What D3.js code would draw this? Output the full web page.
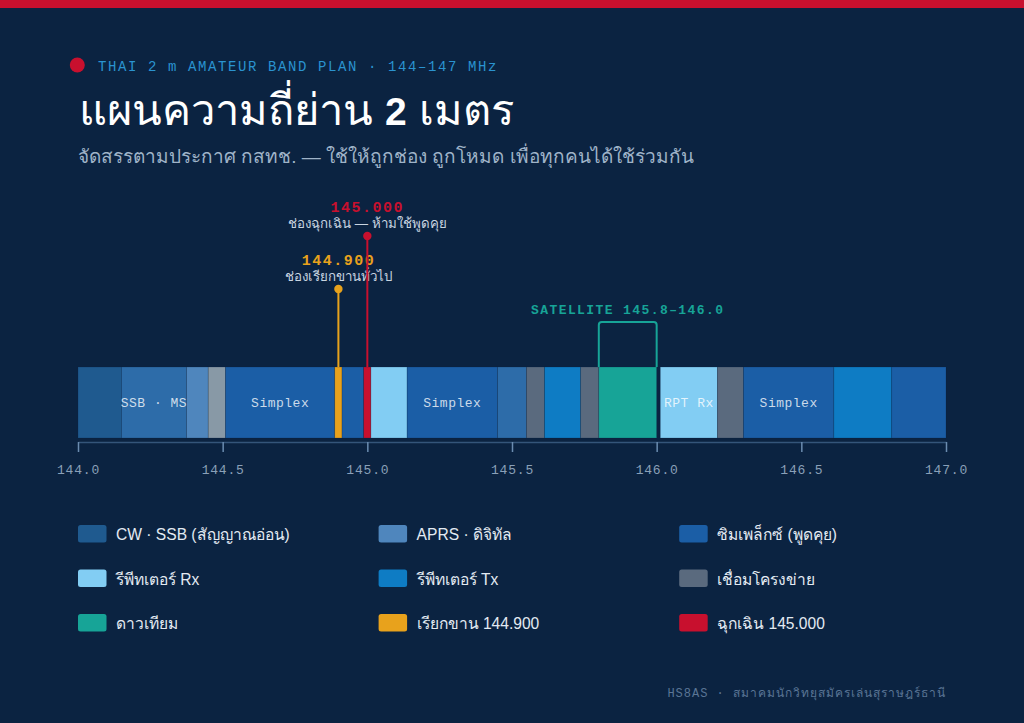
<!DOCTYPE html>
<html><head><meta charset="utf-8">
<script src="https://cdn.jsdelivr.net/npm/d3@7"></script>
<style>
html,body{margin:0;padding:0;background:#0b2341;}
svg{display:block;}
</style></head>
<body>
<script>
// ---- data ----
const segStart = [144.0, 144.15, 144.375, 144.45, 144.51, 144.8875, 144.9125, 144.9875, 145.0125, 145.1375, 145.45, 145.55, 145.6125, 145.7375, 145.8, 146.0125, 146.21, 146.3, 146.6125, 146.8125];
const segEnd   = [144.15, 144.375, 144.45, 144.51, 144.8875, 144.9125, 144.9875, 145.0125, 145.1375, 145.45, 145.55, 145.6125, 145.7375, 145.8, 146.0, 146.21, 146.3, 146.6125, 146.8125, 147.0];
const segType  = ["cw","ssb","aprs","beacon","simplex","call","simplex","emerg","rptRx","simplex","ssb","link","rptTx","link","sat","rptRx","link","simplex","rptTx","simplex"];
const segLabel = ["","SSB · MS","","","Simplex","","","","","Simplex","","","","","","RPT Rx","","Simplex","",""];

const tickValues = [144.0, 144.5, 145.0, 145.5, 146.0, 146.5, 147.0];
const tickLabels = ["144.0","144.5","145.0","145.5","146.0","146.5","147.0"];

const markerFreq  = [144.9, 145.0];
const markerFreqLabel = ["144.900", "145.000"];
const markerDesc  = ["ช่องเรียกขานทั่วไป", "ช่องฉุกเฉิน — ห้ามใช้พูดคุย"];
const markerType  = ["call", "emerg"];

const satRange = [145.8, 146.0];
const satLabel = "SATELLITE 145.8–146.0";

const legendTypes  = ["cw","aprs","simplex","rptRx","rptTx","link","sat","call","emerg"];
const legendLabels = ["CW · SSB (สัญญาณอ่อน)","APRS · ดิจิทัล","ซิมเพล็กซ์ (พูดคุย)","รีพีทเตอร์ Rx","รีพีทเตอร์ Tx","เชื่อมโครงข่าย","ดาวเทียม","เรียกขาน 144.900","ฉุกเฉิน 145.000"];

const colors = {
  cw:"#1f5a8f", ssb:"#2d6ca9", aprs:"#4f86bd", beacon:"#8899a6", simplex:"#1b5ea6",
  rptRx:"#82cdf3", rptTx:"#0e7cc4", link:"#5a6a7e", sat:"#17a497", call:"#e8a21c", emerg:"#c8102e"
};

const kicker = "THAI 2 m AMATEUR BAND PLAN · 144–147 MHz";
const titleA = "แผนความถี่ย่าน", titleB = "2", titleC = "เมตร";
const subtitle = "จัดสรรตามประกาศ กสทช. — ใช้ให้ถูกช่อง ถูกโหมด เพื่อทุกคนได้ใช้ร่วมกัน";
const footer = "HS8AS · สมาคมนักวิทยุสมัครเล่นสุราษฎร์ธานี";

// ---- drawing ----
const W = 1024, H = 723;
const SANS = "'Liberation Sans','Noto Sans',sans-serif";
const MONO = "'Liberation Mono','DejaVu Sans Mono',monospace";
const svg = d3.select("body").append("svg").attr("width", W).attr("height", H);
svg.append("rect").attr("width", W).attr("height", H).attr("fill", "#0b2341");
svg.append("rect").attr("width", W).attr("height", 8).attr("fill", "#c8102e");

// header
svg.append("circle").attr("cx", 77.3).attr("cy", 65).attr("r", 7.5).attr("fill", "#c8102e");
svg.append("text").attr("x", 98).attr("y", 70.5).text(kicker)
  .attr("font-family", MONO).attr("font-size", 14).attr("letter-spacing", 1.6).attr("fill", "#2a93d0");

const tA = svg.append("text").attr("x", 79).attr("y", 125).attr("font-family", SANS)
  .attr("font-size", 43.5).attr("font-weight", 400).attr("fill", "#ffffff").text(titleA);
const wA = tA.node().getComputedTextLength();
const tB = svg.append("text").attr("x", 79 + wA + 12).attr("y", 125).attr("font-family", SANS)
  .attr("font-size", 39).attr("font-weight", 700).attr("fill", "#ffffff").text(titleB);
const wB = tB.node().getComputedTextLength();
svg.append("text").attr("x", 79 + wA + 12 + wB + 12).attr("y", 125).attr("font-family", SANS)
  .attr("font-size", 43.5).attr("font-weight", 400).attr("fill", "#ffffff").text(titleC);

svg.append("text").attr("x", 78).attr("y", 163).text(subtitle)
  .attr("font-family", SANS).attr("font-size", 19).attr("fill", "#9fb3c8");

const x = d3.scaleLinear().domain([144, 147]).range([78, 946]);
const barTop = 367, barBot = 438;

const segs = segStart.map((s, i) => ({s, e: segEnd[i], type: segType[i], label: segLabel[i]}));
const g = svg.append("g");
g.selectAll("rect.seg").data(segs).join("rect").attr("class", "seg")
  .attr("x", d => x(d.s)).attr("width", d => x(d.e) - x(d.s))
  .attr("y", barTop).attr("height", barBot - barTop)
  .attr("fill", d => colors[d.type])
  .attr("stroke", "#0b2341").attr("stroke-opacity", 0.35).attr("stroke-width", 0.6);
g.selectAll("text.seglab").data(segs.filter(d => d.label)).join("text").attr("class", "seglab")
  .attr("x", d => (x(d.s) + x(d.e)) / 2).attr("y", (barTop + barBot) / 2 + 4.5)
  .attr("text-anchor", "middle").text(d => d.label)
  .attr("font-family", MONO).attr("font-size", 13).attr("letter-spacing", 0.5)
  .attr("fill", "#ffffff").attr("fill-opacity", 0.78);

// satellite bracket
const sx0 = x(satRange[0]), sx1 = x(satRange[1]), sTop = 322, rr = 3;
svg.append("path")
  .attr("d", `M${sx0},${barTop} L${sx0},${sTop + rr} Q${sx0},${sTop} ${sx0 + rr},${sTop} L${sx1 - rr},${sTop} Q${sx1},${sTop} ${sx1},${sTop + rr} L${sx1},${barTop}`)
  .attr("fill", "none").attr("stroke", colors.sat).attr("stroke-width", 2);
svg.append("text").attr("x", (sx0 + sx1) / 2).attr("y", 314).attr("text-anchor", "middle").text(satLabel)
  .attr("font-family", MONO).attr("font-size", 13).attr("font-weight", 700).attr("letter-spacing", 1.4)
  .attr("fill", colors.sat);

// markers
const dotY = [289, 236];
markerFreq.forEach((f, i) => {
  const c = colors[markerType[i]];
  svg.append("line").attr("x1", x(f)).attr("x2", x(f)).attr("y1", dotY[i]).attr("y2", barTop)
    .attr("stroke", c).attr("stroke-width", 2);
  svg.append("circle").attr("cx", x(f)).attr("cy", dotY[i]).attr("r", 4.2).attr("fill", c);
  svg.append("text").attr("x", x(f)).attr("y", dotY[i] - 24).attr("text-anchor", "middle").text(markerFreqLabel[i])
    .attr("font-family", MONO).attr("font-size", 15).attr("font-weight", 700).attr("letter-spacing", 1.5).attr("fill", c);
  svg.append("text").attr("x", x(f)).attr("y", dotY[i] - 8).attr("text-anchor", "middle").text(markerDesc[i])
    .attr("font-family", SANS).attr("font-size", 13.3).attr("fill", "#c8d4e0");
});

// axis
const axis = d3.axisBottom(x).tickValues(tickValues).tickFormat((d, i) => tickLabels[i])
  .tickSize(10).tickSizeOuter(0).tickPadding(13);
const ag = svg.append("g").attr("transform", `translate(0,442)`).call(axis);
ag.select(".domain").attr("stroke", "#34557a").attr("stroke-width", 1.5);
ag.selectAll(".tick line").attr("stroke", "#6b8cb0").attr("stroke-width", 1.5);
ag.selectAll(".tick text").attr("font-family", MONO).attr("font-size", 13).attr("letter-spacing", 0.8).attr("fill", "#8aa0b8");

// legend
const lg = svg.append("g");
legendTypes.forEach((tp, i) => {
  const col = i % 3, row = Math.floor(i / 3);
  const lx = 78 + col * 300.6, ly = 525 + row * 44.5;
  lg.append("rect").attr("x", lx).attr("y", ly).attr("width", 28.5).attr("height", 17.5).attr("rx", 2.5)
    .attr("fill", colors[tp]);
  lg.append("text").attr("x", lx + 38).attr("y", ly + 15).text(legendLabels[i])
    .attr("font-family", SANS).attr("font-size", 15.6).attr("fill", "#e3eaf2");
});

// footer
svg.append("text").attr("x", 946).attr("y", 697).attr("text-anchor", "end").text(footer)
  .attr("font-family", MONO).attr("font-size", 12).attr("letter-spacing", 1).attr("fill", "#5a7595");
</script>
</body></html>
